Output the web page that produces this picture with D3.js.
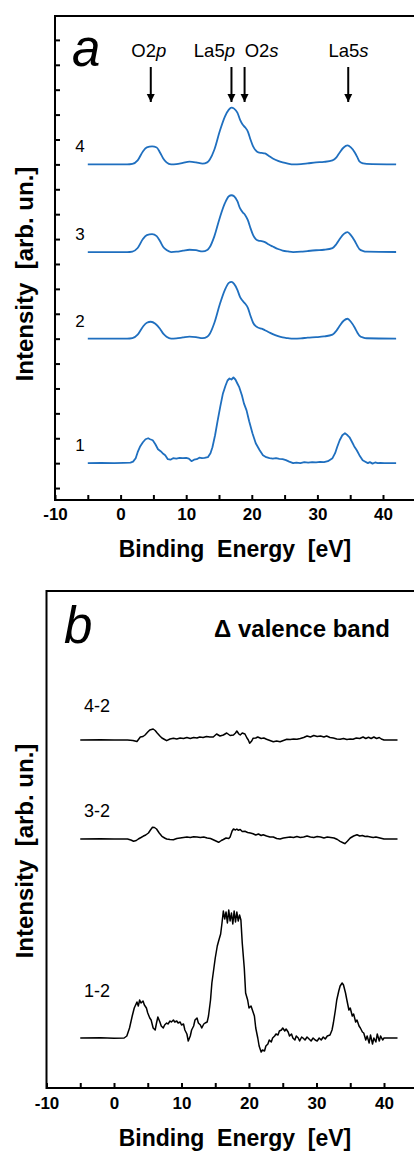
<!DOCTYPE html>
<html>
<head>
<meta charset="utf-8">
<script src="https://cdn.jsdelivr.net/npm/d3@7"></script>
<style>
  html, body { margin: 0; padding: 0; background: #fff; }
  svg { display: block; font-family: "Liberation Sans", Arial, sans-serif; }
</style>
</head>
<body>
<svg id="chart" width="414" height="1152"></svg>
<script>
// ---- panel a: XPS valence band spectra (binding energy eV, intensity arb. un.)
const specNamesA = ['1', '2', '3', '4'];
const specOffsetsA = [25, 150, 237, 325];
const spec1 = [[-5,0],[-3,0.3],[-1,0],[0.5,0.3],[1.5,0.5],[1.9,1.5],[2.3,5],[2.6,11],[3,17],[3.4,21],[3.8,24],[4.2,25],[4.5,24],[4.9,23],[5.3,19],[5.7,14],[6.1,12],[6.4,10],[6.8,8],[7.2,4],[7.6,3.5],[8,5],[8.5,4.5],[9,5.2],[9.5,5],[10,5.3],[10.4,4.5],[10.8,2],[11.2,3.5],[11.6,4],[12,5.5],[12.4,5],[12.8,5.2],[13.3,6],[13.7,10],[14,16],[14.4,28],[14.8,43],[15.2,57],[15.6,70],[16,78],[16.3,83],[16.6,85],[16.9,84],[17.2,86],[17.5,84],[17.8,80],[18.1,76],[18.5,68],[18.8,60],[19.2,53],[19.6,42],[20.1,30],[20.6,20],[21.2,13],[21.7,8],[22.2,6],[22.7,5],[23.2,4.5],[23.7,5],[24.2,4.3],[24.7,4],[25.2,3],[25.7,1.5],[26.3,0],[26.8,0.5],[27.4,0],[28,1],[28.6,0.5],[29.2,1],[29.8,0.7],[30.4,1.3],[31,1],[31.6,2],[32.3,5],[32.7,10],[33,16],[33.4,23],[33.8,28],[34.2,30],[34.6,28],[34.9,26],[35.3,21],[35.6,17],[36,13],[36.4,8],[36.9,3],[37.3,1.5],[37.7,0],[38,1],[38.4,-0.5],[38.8,0.7],[39.2,0],[39.6,0.3],[40.2,0],[42,0]];
const spec2 = [[-5,0],[1,0],[1.8,0.5],[2.6,4],[3.4,12],[4,16],[4.6,17],[5.3,15],[6,10],[6.5,5],[7,2],[7.7,0],[8.5,0.3],[9.5,1.2],[10.5,2],[11.5,1.5],[12.5,0.5],[13.2,2],[13.6,5],[14.3,16],[15.1,34],[15.9,49],[16.5,56],[16.9,57],[17.3,55],[17.8,49],[18.2,42],[18.6,38],[19,35],[19.4,31],[19.8,23],[20.2,16],[20.6,12.5],[21,11],[21.5,10],[22,8.5],[22.6,6.5],[23.2,4.5],[24,2.5],[24.7,1.2],[25.5,0.5],[26.3,0],[27.5,0.3],[28.5,1],[29.8,1.5],[31,2.2],[32.3,4],[32.9,8],[33.4,13],[34,18],[34.6,20],[35.1,17],[35.7,11],[36.1,6],[36.4,3],[37,1],[37.5,0.4],[42,0]];
const spec3 = [[-5,0],[1,0],[1.8,0.5],[2.6,4],[3.4,13],[4,17],[4.8,18],[5.5,16],[6,11],[6.5,5],[7,2],[7.7,0],[8.5,0.3],[9.5,1.3],[10.5,2.3],[11.5,1.8],[12.5,0.6],[13.2,2],[13.6,5],[14.3,16],[15.1,34],[15.9,49],[16.5,56],[16.9,57],[17.3,56],[17.8,51],[18.2,44],[18.6,40],[19,37],[19.4,32],[19.8,24],[20.2,17],[20.6,13],[21,11.5],[21.5,11],[22,10],[22.6,7.5],[23.2,5.5],[24,3],[24.7,1.5],[25.5,0.6],[26.3,0],[27.5,0.3],[28.5,1],[29.8,1.8],[31,2.3],[32.3,4],[32.9,8],[33.4,13],[34,18],[34.6,20],[35.1,17],[35.7,11],[36.1,6],[36.4,3],[37,1],[37.5,0.4],[42,0]];
const spec4 = [[-5,0],[1,0],[1.8,0.5],[2.6,4],[3.4,13],[4,17],[4.8,18],[5.5,17],[6,12],[6.5,6],[7,2],[7.7,0],[8.5,0.3],[9.5,1.5],[10.5,2.7],[11.5,2],[12.5,0.7],[13.2,2],[13.6,5],[14.3,15],[15.1,33],[15.9,48],[16.5,55],[16.9,57],[17.3,56],[17.8,52],[18.2,45],[18.6,40],[19,37],[19.4,33],[19.8,25],[20.2,18],[20.6,14],[21,12],[21.5,11.5],[22,11],[22.6,8.5],[23.2,6],[24,3.5],[24.7,2],[25.5,0.8],[26.3,0],[27.5,0.3],[28.5,1],[29.8,2],[31,2.5],[32.3,4],[32.9,7],[33.4,12],[34,17],[34.6,19],[35.1,17],[35.7,12],[36.1,7],[36.4,3],[37,1],[37.5,0.5],[42,0]];
const peakNames = ['O2p', 'La5p', 'O2s', 'La5s'];
const peakArrowEnergies = [4.6, 16.9, 18.9, 34.7];
const peakLabelEnergies = [4.3, 14.3, 21.5, 34.75];

// ---- panel b: difference spectra
const diffNames = ['1-2', '3-2', '4-2'];
const diffOffsets = [50, 249, 348];
const diffLabelLevels = [91, 271, 376];
const diff12 = [[-5,0],[-2,0.3],[0,-0.3],[1.5,0],[1.9,2],[2.3,10],[2.7,22],[3,30],[3.4,36],[3.6,32],[3.8,38],[4,35],[4.3,37],[4.5,33],[4.8,30],[5,25],[5.3,20],[5.5,18],[5.8,10],[6.1,8],[6.3,15],[6.5,21],[6.8,16],[7,12],[7.3,10],[7.5,13],[7.8,15],[8,14],[8.3,17],[8.5,16],[8.8,18],[9,16],[9.3,17],[9.5,15],[9.8,16],[10,13],[10.3,14],[10.5,8],[10.8,4],[11,-3],[11.3,2],[11.5,8],[11.8,12],[12,18],[12.3,20],[12.5,15],[12.8,13],[13,10],[13.3,14],[13.5,15],[13.8,16],[14,22],[14.3,38],[14.5,55],[14.8,70],[15,80],[15.3,92],[15.5,97],[15.8,104],[16,115],[16.2,127],[16.4,119],[16.6,126],[16.8,115],[17,128],[17.2,117],[17.4,125],[17.6,114],[17.8,127],[18,116],[18.2,126],[18.4,117],[18.6,123],[18.8,118],[19,95],[19.3,70],[19.5,45],[19.8,38],[20,30],[20.3,32],[20.5,28],[20.8,22],[21,10],[21.3,0],[21.5,-8],[21.8,-14],[22,-12],[22.3,-13],[22.5,-8],[22.8,-6],[23,-2],[23.3,-4],[23.5,0],[23.8,2],[24,4],[24.3,3],[24.5,7],[24.8,8],[25,10],[25.3,7],[25.5,9],[25.8,6],[26,2],[26.3,4],[26.5,0],[26.8,-2],[27,2],[27.3,0],[27.5,-3],[27.8,1],[28,0],[28.3,-2],[28.6,1],[28.9,-1],[29.2,-3],[29.5,0],[29.8,-2],[30.1,-3],[30.4,0],[30.7,-2],[31,1],[31.3,-1],[31.6,2],[32,3],[32.3,8],[32.5,15],[32.8,28],[33,38],[33.3,47],[33.5,52],[33.8,55],[34,53],[34.3,45],[34.5,38],[34.8,28],[35,30],[35.3,22],[35.5,24],[35.8,16],[36,18],[36.3,12],[36.5,10],[36.8,6],[37,5],[37.3,-2],[37.5,2],[37.8,-5],[38,3],[38.3,-6],[38.5,0],[38.8,-4],[39,4],[39.3,-3],[39.5,2],[39.8,-2],[40,0],[42,0]];
const diff32 = [[-5,0],[-2,0.3],[0,0],[2,0],[2.5,-1],[2.9,-2.3],[3.3,-1.5],[3.6,0],[4,1.5],[4.3,2.7],[4.7,4],[5.1,6],[5.4,9],[5.7,11.7],[6,11.5],[6.3,10],[6.7,6],[7.1,2.7],[7.5,1],[7.8,0],[8.3,-0.5],[8.8,-0.7],[9.3,0.5],[9.8,1],[10.3,1.5],[10.8,2],[11.3,1.5],[11.8,2.3],[12.3,2],[12.8,1.5],[13.3,2],[13.8,1],[14.3,0.5],[14.7,-0.7],[15.1,-2],[15.5,-3.3],[15.9,-1.5],[16.2,-0.5],[16.6,1],[17,0.5],[17.2,2],[17.5,8],[17.7,10],[18,9],[18.2,10],[18.4,8.7],[18.7,9.5],[19,7.5],[19.4,7.7],[19.8,6.5],[20.2,6],[20.6,5.3],[21,4],[21.4,5],[21.8,3.5],[22.1,4.3],[22.6,3],[23.1,2],[23.6,2],[24.1,0.5],[24.6,0],[25.1,1],[25.6,1.5],[26.1,2],[26.6,1.5],[27.1,2.5],[27.6,1.5],[28.1,2],[28.6,3],[29.1,2],[29.6,1.5],[30.1,2.5],[30.6,2],[31.1,1],[31.6,2],[32.1,1.5],[32.6,1],[33.1,-0.5],[33.5,-2.3],[34,-4],[34.2,-4.7],[34.6,-2],[35,1],[35.5,3],[36,4.3],[36.4,3],[36.8,3.5],[37.2,2.5],[37.5,2.7],[38,2],[38.4,1.5],[38.8,2],[39.4,1],[40,0],[42,0]];
const diff42 = [[-5,0],[-2,0.3],[0,0],[2,0],[2.8,-0.5],[3.4,-1.5],[3.9,3],[4.3,3.5],[4.6,5],[5,8],[5.3,10],[5.8,11],[6.1,9.5],[6.4,7],[6.8,4],[7.1,2],[7.5,0.5],[7.8,-0.7],[8.3,1],[8.8,1.7],[9.3,1],[9.8,2],[10.3,1.5],[10.8,2.5],[11.3,1.5],[11.8,2.5],[12.3,2],[12.7,3],[13.2,2.5],[13.7,3.5],[14.2,3],[14.7,3],[15.2,6],[15.7,4],[16.2,5],[16.7,7],[17.2,4.5],[17.7,5],[18,7],[18.2,9],[18.5,6],[18.7,5],[19,7],[19.4,6],[19.7,2],[19.9,0],[20.1,-3.3],[20.4,-1],[20.6,1.7],[21,2],[21.3,3],[21.8,1.5],[22.2,2],[22.6,0.7],[23.1,-0.5],[23.6,-1.7],[24.1,-1],[24.6,-1.7],[25.1,-0.5],[25.6,0.7],[26.1,0.5],[26.6,1],[27.1,0.7],[27.6,1.5],[28.1,2.5],[28.6,4],[29.1,3],[29.6,4.5],[30.1,3.5],[30.6,4],[31.1,3],[31.5,4],[32,2.5],[32.5,2],[33,1],[33.5,0.7],[34,1.5],[34.5,0.5],[35,1],[35.4,0.7],[35.9,2],[36.4,1.5],[36.9,3],[37.3,1.5],[37.7,2.7],[38.1,1.5],[38.5,3],[38.9,1.5],[39.3,2.5],[39.6,1],[40,0],[42,0]];

const tickEnergies = [-10, -5, 0, 5, 10, 15, 20, 25, 30, 35, 40];
const tickLabelEnergies = [-10, 0, 10, 20, 30, 40];
const yTicksA = d3.range(0, 451, 25);

const svg = d3.select('#chart');
const BLUE = '#1f6fbf';

// scales
const xA = d3.scaleLinear().domain([-10, 45]).range([55, 415.8]);
const yA = d3.scaleLinear().domain([-12, 474]).range([500, 16]);
const xB = d3.scaleLinear().domain([-10, 45]).range([46.5, 417.75]);
const yB = d3.scaleLinear().domain([0, 497]).range([1088, 591]);

function drawAxes(x, y, yTicks, labelPad) {
  // frame (right edge falls outside the picture)
  svg.append('path')
    .attr('d', 'M' + x.range()[1] + ',' + y.range()[1] + ' H' + x.range()[0] + ' V' + y.range()[0] + ' H' + x.range()[1])
    .attr('fill', 'none').attr('stroke', '#000').attr('stroke-width', 2);
  const gx = svg.append('g').attr('transform', 'translate(0,' + y.range()[0] + ')')
    .call(d3.axisBottom(x).tickValues(tickEnergies).tickSizeInner(-5).tickSizeOuter(0).tickPadding(labelPad)
      .tickFormat(function (d) { return tickLabelEnergies.indexOf(d) >= 0 ? d : ''; }));
  gx.select('.domain').remove();
  gx.selectAll('line').attr('stroke-width', 2);
  gx.selectAll('text').attr('font-size', 17).attr('font-weight', 'bold').attr('fill', '#000')
    .attr('font-family', '"Liberation Sans", Arial, sans-serif');
  if (yTicks) {
    const gy = svg.append('g').attr('transform', 'translate(' + x.range()[0] + ',0)')
      .call(d3.axisLeft(y).tickValues(yTicks).tickSizeInner(-5).tickSizeOuter(0).tickFormat(''));
    gy.select('.domain').remove();
    gy.selectAll('line').attr('stroke-width', 2);
  }
}

function axisTitles(xTitleY, yTitleX, yTitleY) {
  svg.append('text').attr('x', 235).attr('y', xTitleY).attr('text-anchor', 'middle')
    .attr('font-size', 23).attr('font-weight', 'bold').style('white-space', 'pre')
    .text('Binding  Energy  [eV]');
  svg.append('text').attr('transform', 'translate(' + yTitleX + ',' + yTitleY + ') rotate(-90)')
    .attr('text-anchor', 'middle').attr('font-size', 24).attr('font-weight', 'bold').style('white-space', 'pre')
    .text('Intensity  [arb. un.]');
}

// ---------- panel a ----------
drawAxes(xA, yA, yTicksA, 8);
axisTitles(557, 33, 274);

const specA = [spec1, spec2, spec3, spec4];
specA.forEach(function (s, i) {
  const line = d3.line()
    .x(function (d) { return xA(d[0]); })
    .y(function (d) { return yA(d[1] + specOffsetsA[i]); })
    .curve(i === 0 ? d3.curveLinear : d3.curveMonotoneX);
  svg.append('path').datum(s).attr('d', line)
    .attr('fill', 'none').attr('stroke', BLUE).attr('stroke-width', 1.8).attr('stroke-linejoin', 'round');
  svg.append('text').attr('x', xA(-6.2)).attr('y', yA(specOffsetsA[i]) - 12)
    .attr('text-anchor', 'middle').attr('font-size', 17).text(specNamesA[i]);
});

svg.append('text').attr('x', 72).attr('y', 66).attr('font-size', 51).attr('font-style', 'italic').text('a');

const defs = svg.append('defs');
defs.append('marker').attr('id', 'arr').attr('viewBox', '0 0 10 10').attr('refX', 10).attr('refY', 5)
  .attr('markerWidth', 8).attr('markerHeight', 9).attr('markerUnits', 'userSpaceOnUse').attr('orient', 'auto')
  .append('path').attr('d', 'M0,0 L10,5 L0,10 Z').attr('fill', '#000');

peakNames.forEach(function (n, i) {
  const t = svg.append('text').attr('x', xA(peakLabelEnergies[i])).attr('y', 57)
    .attr('text-anchor', 'middle').attr('font-size', 18.5);
  const m = n.match(/^(\D+\d)(\D)$/);
  t.append('tspan').text(m[1]);
  t.append('tspan').attr('font-style', 'italic').text(m[2]);
  svg.append('line').attr('x1', xA(peakArrowEnergies[i])).attr('x2', xA(peakArrowEnergies[i]))
    .attr('y1', 67).attr('y2', 102).attr('stroke', '#000').attr('stroke-width', 2).attr('marker-end', 'url(#arr)');
});

// ---------- panel b ----------
drawAxes(xB, yB, null, 9);
axisTitles(1146, 33, 851);

const specB = [diff12, diff32, diff42];
specB.forEach(function (s, i) {
  const line = d3.line()
    .x(function (d) { return xB(d[0]); })
    .y(function (d) { return yB(d[1] + diffOffsets[i]); });
  svg.append('path').datum(s).attr('d', line)
    .attr('fill', 'none').attr('stroke', '#000').attr('stroke-width', 1.5).attr('stroke-linejoin', 'round');
  svg.append('text').attr('x', 84).attr('y', yB(diffLabelLevels[i]))
    .attr('font-size', 18).text(diffNames[i]);
});

svg.append('text').attr('x', 64).attr('y', 643).attr('font-size', 51).attr('font-style', 'italic').text('b');
svg.append('text').attr('x', 390).attr('y', 637).attr('text-anchor', 'end')
  .attr('font-size', 24).attr('font-weight', 'bold').text('Δ valence band');
</script>
</body>
</html>
